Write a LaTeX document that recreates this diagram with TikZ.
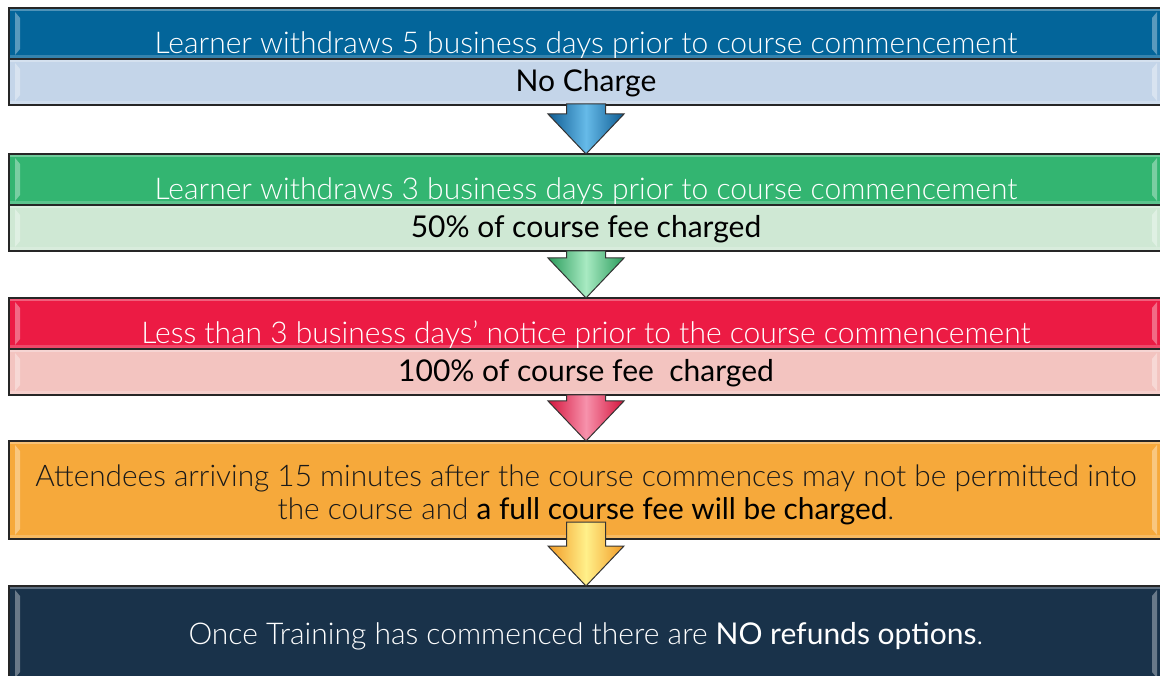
\documentclass[tikz,border=0pt]{standalone}
\usepackage{fontspec}
\setmainfont{Lato}
\newfontfamily\thin{Lato Light}
\usetikzlibrary{positioning}

\definecolor{blueH}{HTML}{03659A}
\definecolor{blueB}{HTML}{C4D5E9}
\definecolor{greenH}{HTML}{33B571}
\definecolor{greenB}{HTML}{CFE8D4}
\definecolor{redH}{HTML}{EC1B44}
\definecolor{redB}{HTML}{F3C4C0}
\definecolor{orangeH}{HTML}{F6A93B}
\definecolor{navyH}{HTML}{19324A}
\definecolor{ink}{HTML}{1A1A1A}
\definecolor{blueE}{HTML}{0E5C93}
\definecolor{blueM}{HTML}{66BAE8}
\definecolor{greenE}{HTML}{2A9C5C}
\definecolor{greenM}{HTML}{A8EAC2}
\definecolor{redE}{HTML}{D4143C}
\definecolor{redM}{HTML}{F792AC}
\definecolor{orangeE}{HTML}{F29A25}
\definecolor{orangeM}{HTML}{FFF08A}

\begin{document}
\begin{tikzpicture}
[x=1pt,y=-1pt,
 every node/.style={draw=black!85,line width=1.5pt,minimum width=1154pt,inner sep=0pt,outer sep=0pt,font=\fontsize{30}{33}\selectfont},
 gloss/.style={path picture={
   \fill[white,opacity=.3] (path picture bounding box.north west) rectangle ([yshift=-3pt]path picture bounding box.north east);
   \fill[white,opacity=.2] ([yshift=4pt]path picture bounding box.south west) rectangle (path picture bounding box.south east);
   \fill[white,opacity=.35] ([shift={(6pt,-4pt)}]path picture bounding box.north west) -- ([shift={(11pt,-10pt)}]path picture bounding box.north west)
     -- ([shift={(11pt,10pt)}]path picture bounding box.south west) -- ([shift={(6pt,4pt)}]path picture bounding box.south west) -- cycle;
   \fill[white,opacity=.35] ([shift={(-6pt,-4pt)}]path picture bounding box.north east) -- ([shift={(-11pt,-10pt)}]path picture bounding box.north east)
     -- ([shift={(-11pt,10pt)}]path picture bounding box.south east) -- ([shift={(-6pt,4pt)}]path picture bounding box.south east) -- cycle;}},
 head/.style={gloss,fill=#1,text=white,text height=46pt,text depth=5pt,font=\fontsize{30}{33}\selectfont\thin},
 body/.style={gloss,fill=#1,text=black,text height=33pt,text depth=13pt},
 pics/drop/.style n args={3}{code={
   \draw[black!80,line width=1pt,left color=#1,right color=#1,middle color=#2]
     (-19.5,-#3) -- (-19.5,-40) -- (-38,-40) -- (0,0) -- (38,-40) -- (19.5,-40) -- (19.5,-#3) -- cycle;}}]
\clip (0,0) rectangle (1160,676);
\fill[white] (0,0) rectangle (1160,676);
\node[head=blueH]   (h1) at (586,8) [anchor=north]  {Learner withdraws 5 business days prior to course commencement};
\node[body=blueB]   (b1) [below=0pt of h1]          {No Charge};
\node[head=greenH]  (h2) [below=49pt of b1]         {Learner withdraws 3 business days prior to course commencement};
\node[body=greenB]  (b2) [below=0pt of h2]          {50\% of course fee charged};
\node[head=redH]    (h3) [below=47pt of b2]         {Less than 3 business days’ notice prior to the course commencement};
\node[body=redB]    (b3) [below=0pt of h3]          {100\% of course fee\ \ charged};
\node[gloss,fill=orangeH,text=ink,minimum height=98pt,align=center,font=\fontsize{29.8}{33}\selectfont\thin]
                    (c4) [below=46pt of b3]         {\rule{0pt}{31pt}Attendees arriving 15 minutes after the course commences may not be permitted into\\
                                                     the course and {\rmfamily\color{black}a full course fee will be charged}.};
\node[head=navyH,text height=58pt,text depth=38pt]
                    (c5) [below=47pt of c4]         {Once Training has commenced there are {\rmfamily NO refunds options}.};
\pic at (h2.north) {drop={blueE}{blueM}{50}};
\pic at (h3.north) {drop={greenE}{greenM}{47}};
\pic at (c4.north) {drop={redE}{redM}{46}};
\pic at (c5.north) {drop={orangeE}{orangeM}{64}};
\end{tikzpicture}
\end{document}
